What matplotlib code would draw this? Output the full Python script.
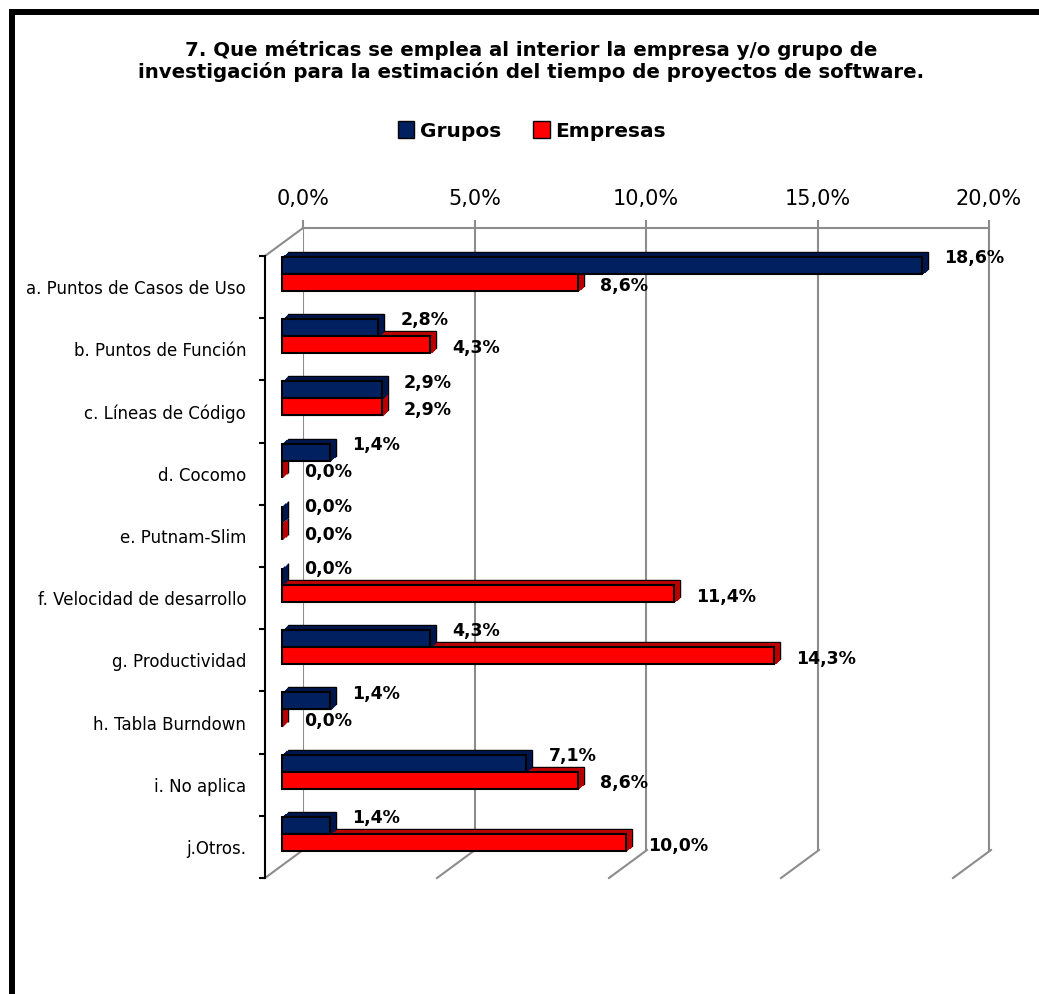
# -*- coding: utf-8 -*-
# grafico de barras horizontales estilo Excel 3D: metricas de estimacion de tiempo

import matplotlib
matplotlib.use('Agg')
import matplotlib.pyplot as plt
import matplotlib.transforms as mtransforms
from matplotlib.patches import Patch, Rectangle

# datos
categorias = ['a. Puntos de Casos de Uso', 'b. Puntos de Función', 'c. Líneas de Código',
              'd. Cocomo', 'e. Putnam-Slim', 'f. Velocidad de desarrollo',
              'g. Productividad', 'h. Tabla Burndown', 'i. No aplica', 'j.Otros.']
grupos = [18.6, 2.8, 2.9, 1.4, 0.0, 0.0, 4.3, 1.4, 7.1, 1.4]
empresas = [8.6, 4.3, 2.9, 0.0, 0.0, 11.4, 14.3, 0.0, 8.6, 10.0]
ticks_x = [0, 5, 10, 15, 20]

W, H = 1039, 994
fig = plt.figure(figsize=(W / 100, H / 100), dpi=100)
fig.patch.set_facecolor('white')
plt.rcParams['font.family'] = ['DejaVu Sans']


def caja(x0, y0, x1, y1):
    # posicion en pixeles (origen arriba a la izquierda) -> fraccion de figura
    return [x0 / W, 1 - y1 / H, (x1 - x0) / W, (y1 - y0) / H]


def pct(v):
    return ('%.1f%%' % v).replace('.', ',')


gris = '#8c8c8c'
azul, azul_lado = '#002060', '#00164a'
rojo, rojo_lado = '#ff0000', '#b80000'

# pared del fondo
ax_fondo = fig.add_axes(caja(303, 228, 989, 850))
ax_fondo.set_xlim(0, 20)
ax_fondo.set_ylim(0, 1)
ax_fondo.set_facecolor('none')
ax_fondo.set_xticks(ticks_x)
ax_fondo.set_xticklabels([pct(t) for t in ticks_x])
ax_fondo.xaxis.tick_top()
ax_fondo.set_yticks([])
ax_fondo.tick_params(axis='x', colors=gris, length=6, width=1.5, pad=8,
                     labelsize=15, labelcolor='black')
ax_fondo.grid(axis='x', color=gris, linewidth=1.5)
for lado in ['left', 'bottom']:
    ax_fondo.spines[lado].set_visible(False)
for lado in ['top', 'right']:
    ax_fondo.spines[lado].set_color(gris)
    ax_fondo.spines[lado].set_linewidth(1.5)

# plano frontal (eje de categorias y piso)
ax_frente = fig.add_axes(caja(265, 256, 953, 878))
ax_frente.set_xlim(0, 20)
ax_frente.set_ylim(len(categorias) - 0.5, -0.5)
ax_frente.set_facecolor('none')
ax_frente.set_xticks([])
ax_frente.set_yticks(range(len(categorias)))
ax_frente.set_yticklabels(categorias, fontsize=12)
ax_frente.set_yticks([i - 0.5 for i in range(len(categorias) + 1)], minor=True)
ax_frente.tick_params(axis='y', which='major', length=0, pad=13.5)
ax_frente.tick_params(axis='y', which='minor', length=4, width=1.5, color='black')
for lado in ['top', 'right', 'bottom']:
    ax_frente.spines[lado].set_visible(False)
ax_frente.spines['left'].set_linewidth(1.5)

# diagonales del piso (de frente hacia el fondo: 38 px derecha, 28 px arriba)
ddx = 38 / (688 / 20)
ddy = 28 / (622 / len(categorias))
yb = len(categorias) - 0.5
for t in ticks_x:
    ax_frente.plot([t, t + ddx], [yb, yb - ddy], color=gris, lw=1.5, clip_on=False)
ax_frente.plot([0, ddx], [-0.5, -0.5 - ddy], color=gris, lw=1.5, clip_on=False)

# plano de las barras
ax_barras = fig.add_axes(caja(282, 243, 970, 865))
ax_barras.set_xlim(0, 20)
ax_barras.set_ylim(len(categorias) - 0.5, -0.5)
ax_barras.axis('off')

alto = 17 / 62.2
pos = list(range(len(categorias)))
y_azul = [p - alto / 2 for p in pos]
y_rojo = [p + alto / 2 for p in pos]


def extrusion(ys, vals, color):
    # capas desplazadas para simular la profundidad 3D
    n = 6
    for k in range(n, 0, -1):
        desp = mtransforms.ScaledTranslation(k * 0.06 / n, k * 0.05 / n, fig.dpi_scale_trans)
        if k == n:
            ax_barras.barh(ys, vals, height=alto, color=color, edgecolor='black',
                           linewidth=1, transform=ax_barras.transData + desp, clip_on=False)
        else:
            ax_barras.barh(ys, vals, height=alto, color=color, edgecolor=color,
                           linewidth=0.8, transform=ax_barras.transData + desp, clip_on=False)


extrusion(y_rojo, empresas, rojo_lado)
extrusion(y_azul, grupos, azul_lado)
ax_barras.barh(y_azul, grupos, height=alto, color=azul, edgecolor='black', linewidth=1.5, clip_on=False)
ax_barras.barh(y_rojo, empresas, height=alto, color=rojo, edgecolor='black', linewidth=1.5, clip_on=False)

# etiquetas de datos
dx_lab = 0.65
for i in pos:
    ax_barras.text(grupos[i] + dx_lab, y_azul[i] - 0.12, pct(grupos[i]),
                   fontweight='bold', fontsize=12.5, ha='left', va='center')
    ax_barras.text(empresas[i] + dx_lab, y_rojo[i] + 0.05, pct(empresas[i]),
                   fontweight='bold', fontsize=12.5, ha='left', va='center')

# titulo
fig.text(0.511, 1 - 61 / H,
         '7. Que métricas se emplea al interior la empresa y/o grupo de\n'
         'investigación para la estimación del tiempo de proyectos de software.',
         ha='center', va='center', fontweight='bold', fontsize=14.2, linespacing=1.1)

# leyenda
manejadores = [Patch(facecolor=azul, edgecolor='black', label='Grupos'),
               Patch(facecolor=rojo, edgecolor='black', label='Empresas')]
fig.legend(handles=manejadores, loc='center', bbox_to_anchor=(0.512, 1 - 131 / H),
           ncol=2, frameon=False, handlelength=0.8, handleheight=0.9, handletextpad=0.3,
           columnspacing=1.6, prop={'weight': 'bold', 'size': 14.5})

# marco
fig.add_artist(Rectangle((11.5 / W, -0.05), 1.1, 1 - 11.5 / H + 0.05, transform=fig.transFigure,
                         fill=False, edgecolor='black', linewidth=4.3))

fig.savefig('out.png', dpi=100)
